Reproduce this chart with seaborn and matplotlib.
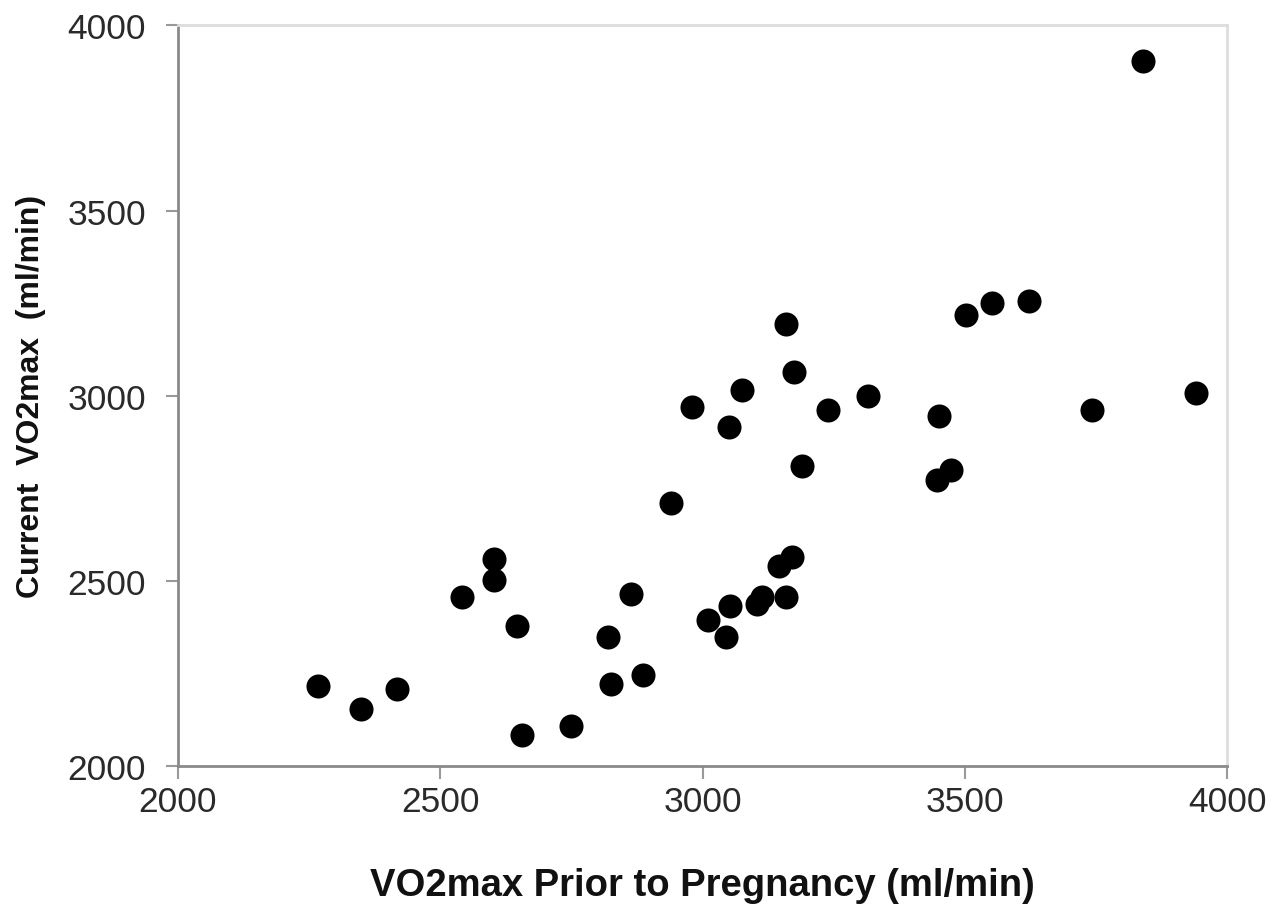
import matplotlib
matplotlib.use("Agg")
import matplotlib.pyplot as plt
import seaborn as sns
import pandas as pd

prior_vo2max = [2267, 2350, 2417, 2541, 2602, 2602, 2646, 2655, 2749, 2819,
                2825, 2863, 2886, 2939, 2979, 3011, 3044, 3050, 3053, 3076,
                3103, 3114, 3145, 3158, 3170, 3158, 3175, 3190, 3238, 3316,
                3446, 3451, 3474, 3501, 3552, 3621, 3741, 3840, 3941]
current_vo2max = [2216, 2154, 2208, 2457, 2559, 2503, 2378, 2084, 2108, 2349,
                  2222, 2465, 2246, 2711, 2970, 2395, 2349, 2916, 2432, 3016,
                  2438, 2457, 2541, 2457, 2565, 3195, 3065, 2811, 2962, 3000,
                  2773, 2946, 2800, 3219, 3251, 3257, 2962, 3905, 3008]
x_ticks = [2000, 2500, 3000, 3500, 4000]
y_ticks = [2000, 2500, 3000, 3500, 4000]

df = pd.DataFrame({"prior": prior_vo2max, "current": current_vo2max})

sns.set_style("white")
plt.rcParams['font.family'] = ['Liberation Sans', 'DejaVu Sans']

fig = plt.figure(figsize=(12.88, 9.12), dpi=100)
ax = fig.add_axes([0.138, 0.159, 0.815, 0.812])

sns.scatterplot(data=df, x="prior", y="current", ax=ax, color="black",
                s=300, edgecolor="black", linewidth=0, legend=False)

ax.set_xlim(2000, 4000)
ax.set_ylim(2000, 4000)
ax.set_xticks(x_ticks)
ax.set_yticks(y_ticks)
ax.tick_params(axis="both", direction="out", length=9, width=1.5,
               color="#999999", labelsize=25.5, labelcolor="#2a2a2a",
               left=True, bottom=True)
ax.tick_params(axis="x", pad=5)
ax.tick_params(axis="y", pad=14)
for side in ["left", "bottom"]:
    ax.spines[side].set_color("#8a8a8a")
    ax.spines[side].set_linewidth(2)
for side in ["top", "right"]:
    ax.spines[side].set_color("#dddddd")
    ax.spines[side].set_linewidth(2)
    ax.spines[side].set_visible(True)

ax.set_xlabel("VO2max Prior to Pregnancy (ml/min)", fontsize=27.5,
              fontweight="bold", labelpad=35, color="#111111")
ax.set_ylabel("Current  VO2max  (ml/min)", fontsize=23,
              fontweight="bold", labelpad=15, color="#111111")

fig.savefig("out.png", dpi=100, facecolor="white")
